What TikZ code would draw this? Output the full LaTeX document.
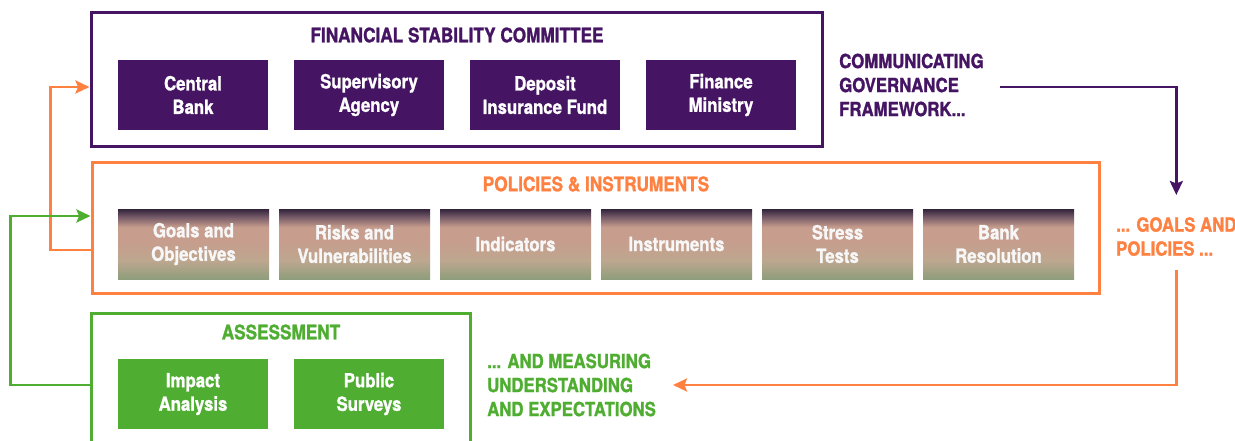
\documentclass[tikz,border=0pt]{standalone}
\usepackage{fontspec}
\setmainfont{TeX Gyre Heros}[FakeStretch=0.86, BoldFeatures={FakeBold=1.2}]
\usetikzlibrary{arrows.meta,positioning}
\definecolor{cpur}{HTML}{451462}
\definecolor{corg}{HTML}{FF8142}
\definecolor{cgrn}{HTML}{4FAE32}
\definecolor{gdark}{HTML}{30233A}
\definecolor{gmid}{HTML}{6E5464}
\definecolor{gpink}{HTML}{C79D8D}
\definecolor{gtan}{HTML}{BDA78F}
\definecolor{ggrn}{HTML}{8E9E7C}
\pgfdeclareverticalshading{boxshade}{100bp}{color(0bp)=(ggrn); color(25bp)=(ggrn); color(38bp)=(gtan); color(52bp)=(gpink); color(62bp)=(gpink); color(70bp)=(gmid); color(75bp)=(gdark); color(100bp)=(gdark)}
\tikzset{
  frame/.style={draw=#1, line width=3pt, fill=white, inner sep=0pt},
  solidbox/.style={fill=#1, text=white, minimum width=150pt, minimum height=70pt, inner sep=0pt, align=center, font=\bfseries\fontsize{19.5}{23.5}\selectfont},
  gradbox/.style={shading=boxshade, text=white!94!gray, minimum width=151pt, minimum height=70pt, inner sep=0pt, align=center, font=\bfseries\fontsize{19.5}{23.5}\selectfont},
  ttl/.style={text=#1, font=\bfseries\fontsize{20}{24}\selectfont, inner sep=0pt},
  side/.style={text=#1, font=\bfseries\fontsize{19.5}{24}\selectfont, align=left, inner sep=0pt},
  conn/.style={draw=#1, line width=2.8pt, -{Stealth[length=14pt,width=13pt,inset=2.5pt]}},
}
\begin{document}
\begin{tikzpicture}[x=1pt,y=-1pt]
\useasboundingbox (0,0) rectangle (1235,441);
\clip (0,0) rectangle (1235,441);
% frames
\node[frame=cpur, minimum width=731pt, minimum height=134pt] (fsc) at (456.5,80) {};
\node[frame=corg, minimum width=1007pt, minimum height=130pt] (pol) at (595.5,228) {};
\node[frame=cgrn, minimum width=379pt, minimum height=160pt] (asm) at (280.5,393) {};
% titles
\node[ttl=cpur] (fsctitle) at (457,35) {FINANCIAL STABILITY COMMITTEE};
\node[ttl=corg] (poltitle) at (596,184) {POLICIES \& INSTRUMENTS};
\node[ttl=cgrn] (asmtitle) at (281,332) {ASSESSMENT};
% FSC boxes
\node[solidbox=cpur] (cb) at (193,95) {Central\\Bank};
\node[solidbox=cpur] (sa) at (369,95) {Supervisory\\Agency};
\node[solidbox=cpur] (dif) at (545,95) {Deposit\\Insurance Fund};
\node[solidbox=cpur] (fm) at (721,95) {Finance\\Ministry};
% policies boxes
\node[gradbox] (go) at (193.5,244) {Goals and\\Objectives};
\node[gradbox] (rv) at (354.5,244) {Risks and\\Vulnerabilities};
\node[gradbox] (ind) at (515.5,244) {Indicators};
\node[gradbox] (ins) at (676.5,244) {Instruments};
\node[gradbox] (st) at (837.5,244) {Stress\\Tests};
\node[gradbox] (br) at (998.5,244) {Bank\\Resolution};
% assessment boxes
\node[solidbox=cgrn] (ia) at (193,394) {Impact\\Analysis};
\node[solidbox=cgrn] (ps) at (369,394) {Public\\Surveys};
% side texts
\node[side=cpur, anchor=west] (gov) at (839,85) {COMMUNICATING\\GOVERNANCE\\FRAMEWORK...};
\node[side=corg, anchor=north west] (goals) at (1116,217) {... GOALS AND\\POLICIES ...};
\node[side=cgrn, anchor=west] (meas) at (487,385) {... AND MEASURING\\UNDERSTANDING\\AND EXPECTATIONS};
% connectors
\coordinate (gstart) at (1000,87);
\coordinate (mtip) at (673,385);
\draw[conn=cpur] (gstart) -| ([yshift=22pt]goals.north);
\draw[conn=corg] ([yshift=-14pt]goals.south) |- (mtip);
\draw[conn=corg] ([yshift=-22pt]pol.west) -- ++(-40,0) |- ([yshift=-7pt]fsc.west);
\draw[conn=cgrn] ([yshift=8pt]asm.west) -- ++(-79,0) |- ([yshift=12pt]pol.west);
\end{tikzpicture}
\end{document}
